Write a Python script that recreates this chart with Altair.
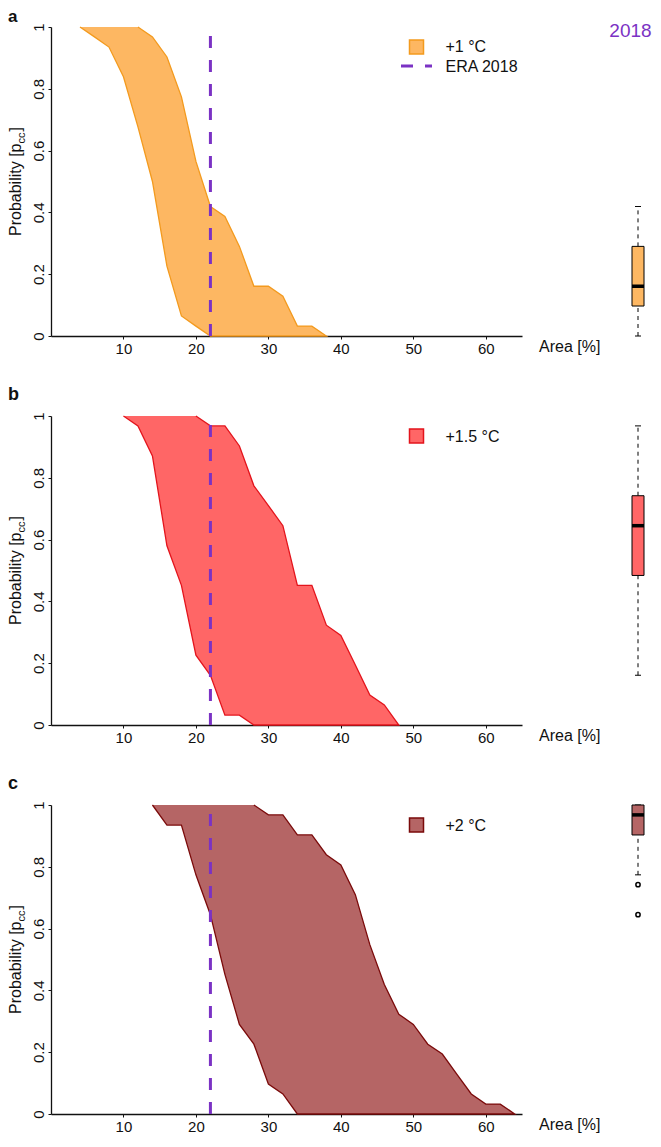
import altair as alt
import pandas as pd

FONT = "Liberation Sans"
PURPLE = "#7B32C4"

# ---------------- data ----------------
era_2018 = 22
x_ticks = [10, 20, 30, 40, 50, 60]
y_ticks = [0, 0.2, 0.4, 0.6, 0.8, 1.0]

# panel a: +1 °C
a_left_x = [4, 6, 8, 10, 12, 14, 16, 18, 20, 22]
a_left_y = [1.0, 0.968, 0.935, 0.839, 0.677, 0.5, 0.226, 0.065, 0.032, 0.0]
a_right_x = [12, 14, 16, 18, 20, 22, 24, 26, 28, 30, 32, 34, 36, 38]
a_right_y = [1.0, 0.968, 0.903, 0.774, 0.565, 0.419, 0.387, 0.29, 0.161, 0.161, 0.129, 0.032, 0.032, 0.0]
a_box = [0.0, 0.097, 0.161, 0.29, 0.419]      # lo, q1, median, q3, hi
a_out = []

# panel b: +1.5 °C
b_left_x = [10, 12, 14, 16, 18, 20, 22, 24, 26, 28]
b_left_y = [1.0, 0.968, 0.871, 0.58, 0.452, 0.226, 0.161, 0.032, 0.032, 0.0]
b_right_x = [20, 22, 24, 26, 28, 30, 32, 34, 36, 38, 40, 42, 44, 46, 48]
b_right_y = [1.0, 0.968, 0.968, 0.903, 0.774, 0.71, 0.645, 0.452, 0.452, 0.323, 0.29, 0.194, 0.097, 0.065, 0.0]
b_box = [0.161, 0.484, 0.645, 0.742, 0.968]
b_out = []

# panel c: +2 °C
c_left_x = [14, 16, 18, 20, 22, 24, 26, 28, 30, 32, 34]
c_left_y = [1.0, 0.935, 0.935, 0.774, 0.645, 0.452, 0.29, 0.226, 0.097, 0.065, 0.0]
c_right_x = [28, 30, 32, 34, 36, 38, 40, 42, 44, 46, 48, 50, 52, 54, 56, 58, 60, 62, 64]
c_right_y = [1.0, 0.968, 0.968, 0.903, 0.903, 0.839, 0.806, 0.71, 0.548, 0.419, 0.323, 0.29, 0.226, 0.194,
             0.129, 0.065, 0.032, 0.032, 0.0]
c_box = [0.774, 0.903, 0.968, 1.0, 1.0]
c_out = [0.742, 0.645]

panels = [
    dict(letter="a", label="+1 °C", fill="#FDB762", stroke="#F39A1E",
         lx=a_left_x, ly=a_left_y, rx=a_right_x, ry=a_right_y, box=a_box, out=a_out, era_legend=True,
         letter_y=-5, letter_size=17),
    dict(letter="b", label="+1.5 °C", fill="#FF6666", stroke="#E3141C",
         lx=b_left_x, ly=b_left_y, rx=b_right_x, ry=b_right_y, box=b_box, out=b_out, era_legend=False,
         letter_y=-16, letter_size=18),
    dict(letter="c", label="+2 °C", fill="#B56565", stroke="#7A0A0A",
         lx=c_left_x, ly=c_left_y, rx=c_right_x, ry=c_right_y, box=c_box, out=c_out, era_legend=False,
         letter_y=-16, letter_size=18),
]

W, H = 471, 309
BOX_W = 24

xscale = alt.Scale(domain=[0, 65], nice=False, zero=False)
yscale = alt.Scale(domain=[0, 1], nice=False, zero=False)
xaxis = alt.Axis(values=x_ticks, title=None, grid=False, tickSize=3, labelPadding=2, labelFontSize=15,
                 labelFont=FONT, labelColor="#111", domainColor="#111", tickColor="#111", domainWidth=1.3,
                 labelFlush=False)
yaxis = alt.Axis(values=y_ticks, title=None, grid=False, tickSize=3, labelPadding=5, labelFontSize=15,
                 labelFont=FONT, labelColor="#111", domainColor="#111", tickColor="#111", domainWidth=1.3,
                 labelAngle=270, labelAlign="center", labelBaseline="alphabetic", format=".1~f",
                 labelFlush=False)


def X(f):
    return alt.X(f, scale=xscale, axis=xaxis)


def Y(f):
    return alt.Y(f, scale=yscale, axis=yaxis)


def txt(s, x, y, size=16, **kw):
    return alt.Chart(pd.DataFrame({"t": [s]})).mark_text(
        font=FONT, fontSize=size, color=kw.pop("color", "#111"), **kw
    ).encode(text="t:N", x=alt.value(x), y=alt.value(y))


def main_panel(p, first):
    pts_x = list(p["lx"]) + list(p["rx"])[::-1]
    pts_y = list(p["ly"]) + list(p["ry"])[::-1]
    poly = pd.DataFrame({"area": pts_x, "prob": pts_y, "i": list(range(len(pts_x)))})
    band = alt.Chart(poly).mark_line(fill=p["fill"], stroke=p["stroke"], strokeWidth=1.3,
                                     strokeJoin="miter").encode(
        x=X("area:Q"), y=Y("prob:Q"), order=alt.Order("i:Q"))
    era = alt.Chart(pd.DataFrame({"x": [era_2018], "y0": [0.0], "y1": [1.0]})).mark_rule(
        color=PURPLE, strokeWidth=3, strokeDash=[12, 12], strokeCap="butt").encode(
        x=X("x:Q"), y=Y("y0:Q"), y2="y1:Q")
    layers = [band, era]
    # legend
    layers.append(alt.Chart(pd.DataFrame({"k": [p["label"]]})).mark_square(
        size=196, fill=p["fill"], stroke=p["stroke"], strokeWidth=1.5, opacity=1).encode(
        x=alt.value(365.5), y=alt.value(20)))
    layers.append(txt(p["label"], 394.5, 25.5 if not p["era_legend"] else 24.5, align="left",
                      baseline="alphabetic"))
    if p["era_legend"]:
        layers.append(alt.Chart(pd.DataFrame({"k": ["ERA 2018"]})).mark_rule(
            color=PURPLE, strokeWidth=3, strokeDash=[12, 12], strokeCap="butt").encode(
            x=alt.value(350), x2=alt.value(381), y=alt.value(39)))
        layers.append(txt("ERA 2018", 394.5, 44.5, align="left", baseline="alphabetic"))
    # panel letter
    layers.append(txt(p["letter"], -43, p["letter_y"], size=p["letter_size"], fontWeight="bold",
                      align="left", baseline="alphabetic"))
    # y title with subscript
    layers.append(txt("Probability [p", -30, 209, size=16, angle=270, align="left", baseline="alphabetic"))
    layers.append(txt("cc", -26, 116.5, size=11, angle=270, align="left", baseline="alphabetic"))
    layers.append(txt("]", -30, 104.5, size=16, angle=270, align="left", baseline="alphabetic"))
    # x title
    layers.append(txt("Area [%]", 488, H + 16, size=16, align="left", baseline="alphabetic"))
    if first:
        # transparent extent holder so the page offset is predictable
        layers.insert(0, alt.Chart(pd.DataFrame({"k": [0]})).mark_rect(opacity=0).encode(
            x=alt.value(-50), x2=alt.value(0), y=alt.value(-40), y2=alt.value(0)))
    return alt.layer(*layers).properties(width=W, height=H)


def box_panel(p, first):
    lo, q1, med, q3, hi = p["box"]
    df = pd.DataFrame({"k": ["m"], "lo": [lo], "q1": [q1], "med": [med], "q3": [q3], "hi": [hi]})
    bx = alt.X("k:N", axis=None, scale=alt.Scale(paddingInner=0, paddingOuter=0))
    by = lambda f: alt.Y(f, scale=yscale, axis=None)
    base = alt.Chart(df)
    layers = [
        base.mark_rule(color="black", strokeWidth=1, strokeDash=[4, 4]).encode(x=bx, y=by("q3:Q"), y2="hi:Q"),
        base.mark_rule(color="black", strokeWidth=1, strokeDash=[4, 4]).encode(x=bx, y=by("lo:Q"), y2="q1:Q"),
        base.mark_tick(color="black", size=6, thickness=1, opacity=1).encode(x=bx, y=by("hi:Q")),
        base.mark_tick(color="black", size=6, thickness=1, opacity=1).encode(x=bx, y=by("lo:Q")),
        base.mark_bar(size=12, fill=p["fill"], stroke="black", strokeWidth=1, opacity=1).encode(
            x=bx, y=by("q1:Q"), y2="q3:Q"),
        base.mark_tick(color="black", size=12, thickness=3.5, opacity=1).encode(x=bx, y=by("med:Q")),
    ]
    if p["out"]:
        od = pd.DataFrame({"k": ["m"] * len(p["out"]), "v": p["out"]})
        layers.append(alt.Chart(od).mark_point(shape="circle", filled=False, size=18, color="black",
                                               strokeWidth=1.5, opacity=1).encode(x=bx, y=by("v:Q")))
    if first:
        layers.append(txt("2018", 4.5, 4, size=19, color=PURPLE, align="center", baseline="middle"))
    return alt.layer(*layers).properties(width=BOX_W, height=H)


cells = []
for i, p in enumerate(panels):
    cells.append(main_panel(p, i == 0))
    cells.append(box_panel(p, i == 0))

chart = alt.concat(*cells, columns=2, spacing={"row": 80, "column": 104}, bounds="flush").properties(
    padding={"left": -7, "top": -21, "right": 0, "bottom": -1}
).configure(
    background="white",
    view=alt.ViewConfig(stroke="transparent", strokeWidth=0),
    style={"cell": {"stroke": "transparent", "strokeWidth": 0}},
)

chart.save("out.html", embed_options={"renderer": "svg", "actions": False})
